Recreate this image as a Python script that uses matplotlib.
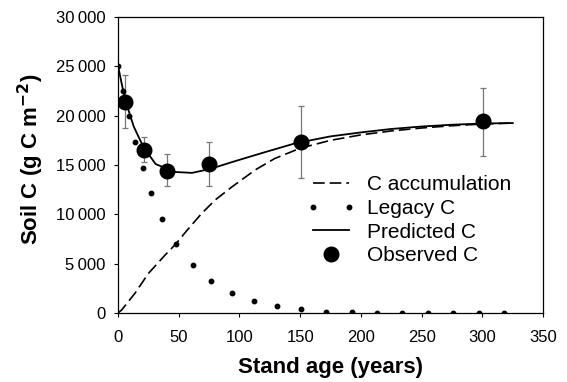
import numpy as np
import matplotlib
matplotlib.use("Agg")
import matplotlib.pyplot as plt
from matplotlib.legend_handler import HandlerLine2D
from matplotlib.ticker import FuncFormatter

plt.rcParams['font.family'] = ['Liberation Sans', 'DejaVu Sans']

# ==========================================
#  Data
# ==========================================
# C accumulation curve (dashed)
accum_age = [0, 3, 14, 25, 39, 48, 57, 69, 80, 94, 113, 129, 143, 150, 175, 200, 225, 250, 275, 300, 325]
accum_c = [0, 300, 2000, 4000, 5900, 7050, 8400, 10100, 11450, 12800, 14500, 15650, 16350, 16700,
           17500, 18050, 18450, 18750, 18980, 19150, 19250]

# Legacy C (dotted, markers only)
legacy_age = [0, 4.4, 8.8, 14.3, 20.3, 27.4, 36.4, 47.8, 61.5, 76.8, 94.2, 112.2, 130.8, 150.7,
              171.6, 192.3, 213, 234, 255, 276, 297, 318]
legacy_c = [25080, 22510, 19950, 17280, 14680, 12120, 9520, 6990, 4860, 3220, 2000, 1210, 710, 370,
            150, 60, 20, 10, 5, 0, 0, 0]

# Predicted C (solid)
pred_age = [0, 4, 7, 13, 21, 31, 46, 61, 76, 94, 121, 146, 175, 200, 225, 250, 275, 300, 325]
pred_c = [25100, 22700, 21200, 18900, 16800, 15100, 14300, 14200, 14600, 15300, 16300, 17200,
          17900, 18300, 18650, 18900, 19080, 19200, 19250]

# Observed C with error bars
obs_age = [5.5, 21.4, 40.4, 75.2, 150.7, 300.7]
obs_c = [21430, 16500, 14410, 15060, 17280, 19410]
obs_hi = [24130, 17790, 16070, 17280, 20930, 22780]
obs_lo = [18760, 15260, 12830, 12830, 13640, 15930]

# ==========================================
#  Plot
# ==========================================
fig = plt.figure(figsize=(5.67, 3.82), dpi=100)
ax = fig.add_axes([0.208, 0.1806, 0.75, 0.775])

obs_age = np.array(obs_age)
obs_c = np.array(obs_c)
yerr = [obs_c - np.array(obs_lo), np.array(obs_hi) - obs_c]
ax.errorbar(obs_age, obs_c, yerr=yerr, fmt='none', ecolor='#777777', elinewidth=0.9,
            capsize=2.5, capthick=0.9, zorder=3)

l_acc, = ax.plot(accum_age, accum_c, color='black', lw=1.2, linestyle=(0, (7, 3)),
                 label='C accumulation', zorder=4)
l_leg, = ax.plot(legacy_age, legacy_c, linestyle='none', marker='o', ms=3.2, color='black',
                 label='Legacy C', zorder=4)
l_pred, = ax.plot(pred_age, pred_c, color='black', lw=1.3, label='Predicted C', zorder=5)
l_obs, = ax.plot(obs_age, obs_c, linestyle='none', marker='o', ms=10.5, color='black',
                 label='Observed C', zorder=6)

ax.set_xlim(0, 350)
ax.set_ylim(0, 30000)
ax.set_xticks(np.arange(0, 351, 50))
ax.set_yticks(np.arange(0, 30001, 5000))
ax.yaxis.set_major_formatter(FuncFormatter(lambda v, p: f"{int(v):,}".replace(",", "\u2009")))
ax.tick_params(direction='out', length=3, width=0.8, labelsize=12, top=False, right=False)
ax.tick_params(axis='y', pad=6)
ax.tick_params(axis='x', pad=9)
for s in ax.spines.values():
    s.set_linewidth(0.9)

ax.set_xlabel("Stand age (years)", fontsize=16, fontweight='bold')
ax.set_ylabel("Soil C (g C m$^{\\mathbf{-2}}$)", fontsize=16, fontweight='bold')
ax.xaxis.set_label_coords(0.5, -0.15)
ax.yaxis.set_label_coords(-0.168, 0.52)

ax.legend(handles=[l_acc, l_leg, l_pred, l_obs], loc='upper left', bbox_to_anchor=(0.445, 0.465),
          frameon=False, fontsize=15, handlelength=2.3, handletextpad=0.55, labelspacing=0.22,
          borderpad=0, borderaxespad=0, numpoints=2,
          handler_map={l_obs: HandlerLine2D(numpoints=1)})

plt.savefig("out.png", dpi=100)
